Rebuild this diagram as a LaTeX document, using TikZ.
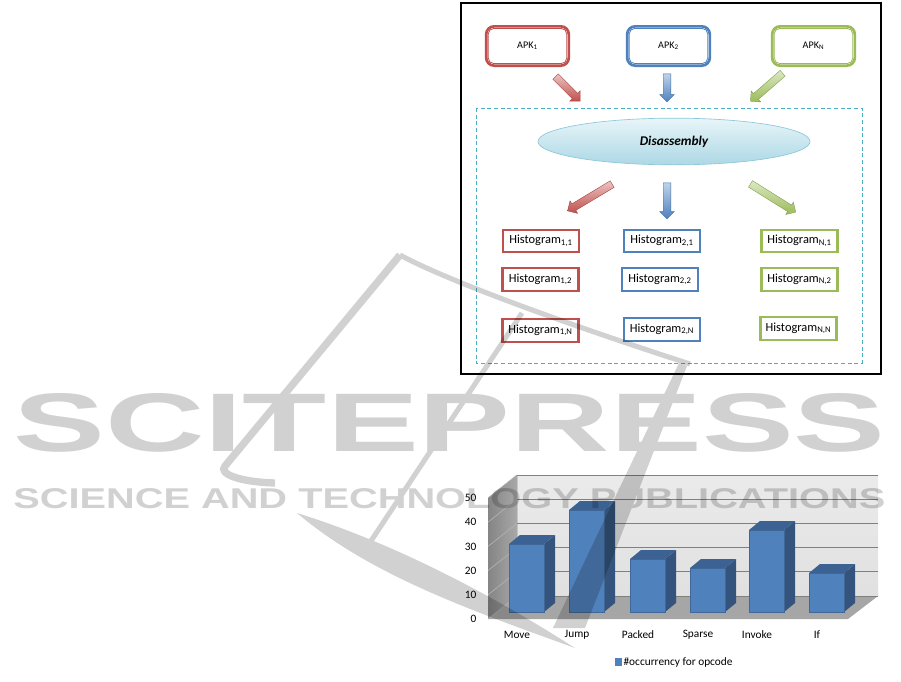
\documentclass[tikz,border=0pt]{standalone}
\usepackage{fontspec}
\setmainfont{Carlito}
\newfontfamily\wmfont{Liberation Sans}
\usetikzlibrary{shapes.geometric, shapes.arrows}
\definecolor{apkred}{RGB}{192,80,77}
\definecolor{apkblue}{RGB}{79,129,189}
\definecolor{apkgreen}{RGB}{155,187,89}
\definecolor{lightred}{RGB}{236,196,195}
\definecolor{lightblue}{RGB}{190,210,234}
\definecolor{lightgreen}{RGB}{220,232,196}
\definecolor{dashcyan}{RGB}{75,172,198}
\definecolor{ellborder}{RGB}{140,200,218}
\definecolor{elltop}{RGB}{232,245,249}
\definecolor{ellbottom}{RGB}{172,216,229}
\definecolor{barfront}{RGB}{79,129,189}
\definecolor{barside}{RGB}{52,84,125}
\definecolor{bartop}{RGB}{60,98,148}

\begin{document}
\begin{tikzpicture}[x=0.75pt, y=-0.75pt, >=stealth,
    apkbox/.style={draw=#1, line width=2pt, rounded corners=6pt, fill=white,
        minimum width=62pt, minimum height=29.5pt, font=\fontsize{7.6}{9}\selectfont},
    histbox/.style={draw=#1, line width=1.6pt, fill=white, inner sep=0pt,
        minimum width=57pt, minimum height=17pt, font=\fontsize{9.3}{10}\selectfont},
    fatarrow/.style 2 args={single arrow, draw=#1!85!black, line width=0.3pt,
        top color=#2, bottom color=#1, inner sep=2.7pt, single arrow head extend=2.6pt},
    catlab/.style={font=\fontsize{8.5}{10}\selectfont},
    gridc/.style={draw=black!50, line width=0.6pt}]
    \useasboundingbox (0,0) rectangle (901,682);

    % Khung ngoài
    \draw[line width=1.6pt] (461,3) rectangle (881,374);
    \draw[dashcyan, line width=0.7pt, dash pattern=on 3pt off 2pt] (476,108) rectangle (862,363);

    % Các tệp APK
    \node[apkbox=apkred] (apk1) at (527.5,46) {APK\textsubscript{1}};
    \node[apkbox=apkblue] (apk2) at (668.5,46) {APK\textsubscript{2}};
    \node[apkbox=apkgreen] (apkN) at (813.5,46) {APK\textsubscript{N}};
    \foreach \n/\c in {apk1/apkred, apk2/apkblue, apkN/apkgreen}
        \draw[\c, line width=0.6pt, rounded corners=4pt]
            ([shift={(2.6pt,2.6pt)}]\n.south west) rectangle ([shift={(-2.6pt,-2.6pt)}]\n.north east);

    % Mũi tên vào
    \node[fatarrow={apkred}{lightred}, minimum height=26pt, rotate=-45] (ar1) at (566.5,87.5) {};
    \node[fatarrow={apkblue}{lightblue}, minimum height=21pt, rotate=-90] (ar2) at (667,86) {};
    \node[fatarrow={apkgreen}{lightgreen}, minimum height=32pt, rotate=-139] (arN) at (768,86) {};

    % Disassembly
    \node[ellipse, draw=ellborder, line width=0.5pt, top color=elltop, bottom color=ellbottom,
        minimum width=204pt, minimum height=35pt,
        font=\fontsize{10}{12}\selectfont\bfseries\itshape] (dis) at (674,141.5) {Disassembly};

    % Mũi tên ra
    \node[fatarrow={apkred}{lightred}, minimum height=39pt, rotate=-149] (br1) at (591.5,196.5) {};
    \node[fatarrow={apkblue}{lightblue}, minimum height=27pt, rotate=-90] (br2) at (667,199) {};
    \node[fatarrow={apkgreen}{lightgreen}, minimum height=40pt, rotate=-32] (brN) at (771.5,197) {};

    % Histogram
    \node[histbox=apkred] (h11) at (541,241) {Histogram\textsubscript{1,1}};
    \node[histbox=apkred] (h12) at (540.5,279.5) {Histogram\textsubscript{1,2}};
    \node[histbox=apkred] (h1N) at (540.5,330.5) {Histogram\textsubscript{1,N}};
    \node[histbox=apkblue] (h21) at (662,241) {Histogram\textsubscript{2,1}};
    \node[histbox=apkblue] (h22) at (660,279.5) {Histogram\textsubscript{2,2}};
    \node[histbox=apkblue] (h2N) at (662,329.5) {Histogram\textsubscript{2,N}};
    \node[histbox=apkgreen] (hN1) at (799.5,241) {Histogram\textsubscript{N,1}};
    \node[histbox=apkgreen] (hN2) at (799.5,279.5) {Histogram\textsubscript{N,2}};
    \node[histbox=apkgreen] (hNN) at (798.5,328.5) {Histogram\textsubscript{N,N}};

    % Biểu đồ cột
    \fill[top color=black!8, bottom color=black!12] (517,475) rectangle (878,596);
    \fill[left color=black!48, right color=black!34] (488,498) -- (517,475) -- (517,596) -- (488,619) -- cycle;
    \fill[black!35] (488,619) -- (517,596) -- (878,596) -- (848,619) -- cycle;
    \foreach \v in {0,10,...,50} {
        \draw[draw=black!30, line width=0.5pt] (488,{619-2.42*\v}) -- (517,{596-2.42*\v});
        \draw[gridc] (517,{596-2.42*\v}) -- (878,{596-2.42*\v});
        \node[catlab, anchor=east, inner sep=1pt] (y\v) at (478,{619-2.42*\v}) {\v};
    }
    \foreach \x/\t/\lab in {509/544/Move, 569/510/Jump, 630/559/Packed, 690/568/Sparse, 749/530/Invoke, 809/573/If} {
        \fill[barside] (\x+35,612) -- (\x+35,\t) -- (\x+46,\t-9) -- (\x+46,603) -- cycle;
        \fill[bartop] (\x,\t) -- (\x+11,\t-9) -- (\x+46,\t-9) -- (\x+35,\t) -- cycle;
        \draw[fill=barfront, draw=barfront!80!black, line width=0.3pt] (\x,\t) rectangle (\x+35,612);
        \node[catlab] (lab\lab) at (\x+8,635) {\lab};
    }
    \fill[barfront] (615,658) rectangle (622,666);
    \node[catlab, anchor=west, inner sep=1pt] (legend) at (622,662) {\#occurrency for opcode};

    % Hình mờ
    \begin{scope}[transparency group, opacity=0.18]
        \draw[line width=5.5pt] (400,255) -- (225,466) .. controls (218,474) and (240,482) .. (275,483);
        \draw[line width=3.8pt] (400,255) .. controls (455,285) and (600,335) .. (690,364);
        \draw[line width=3.8pt] (522,313) -- (363,553);
        \fill (679,363) -- (687,366) -- (585,628) -- (553,628) -- cycle;
        \fill (297,513) .. controls (370,575) and (470,610) .. (575,648)
            .. controls (500,600) and (400,545) .. (297,513) -- cycle;
        \node[anchor=north west, inner sep=0pt] (wm1) at (13,393)
            {\resizebox{654pt}{43.5pt}{\wmfont\bfseries SCITEPRESS}};
        \node[anchor=north west, inner sep=0pt] (wm2) at (13,488)
            {\resizebox{654pt}{15pt}{\wmfont\bfseries SCIENCE AND TECHNOLOGY PUBLICATIONS}};
    \end{scope}
\end{tikzpicture}
\end{document}
